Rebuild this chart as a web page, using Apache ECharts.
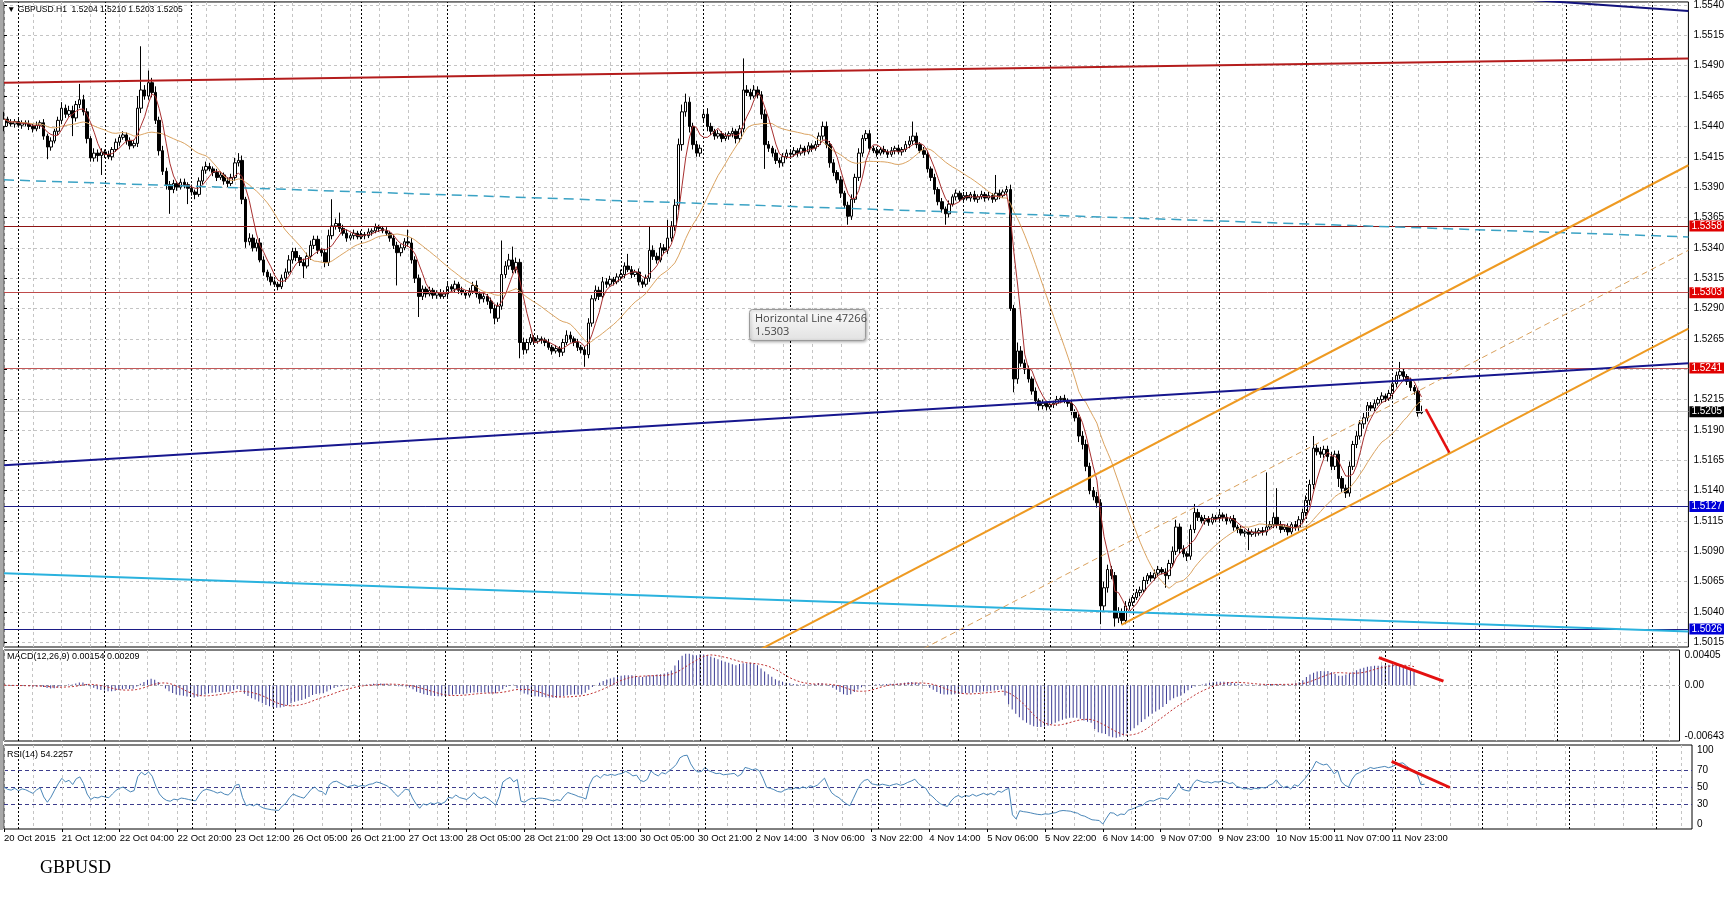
<!DOCTYPE html>
<html><head><meta charset="utf-8">
<script src="https://cdn.jsdelivr.net/npm/echarts@6/dist/echarts.min.js"></script>
<style>html,body{margin:0;padding:0;background:#fff}#c{width:1727px;height:910px}</style>
</head><body><div id="c"></div>
<script>
// ---- DATA (prices in pips above 1.5000; H1 bars from 20 Oct 2015 20:00) ----
const opens = [
440,446,443,442,444,441,443,442,440,438, 441,443,432,423,428,436,445,455,450,453,
447,458,462,452,430,414,418,416,419,417, 415,421,427,431,433,428,424,426,455,470,
465,476,468,445,420,403,392,388,393,390, 394,392,389,386,384,395,404,407,405,402,
398,400,395,393,398,410,412,380,345,348, 340,344,330,320,316,312,310,308,315,320,
330,337,332,328,325,333,342,347,338,336, 328,350,358,360,356,352,348,350,352,349,
351,350,353,354,357,356,354,352,348,342, 336,340,345,344,330,315,300,306,302,305,
301,303,300,302,308,306,310,305,303,301, 304,309,302,298,300,296,290,282,292,318,
325,330,322,328,262,256,262,266,263,265, 264,262,258,255,257,254,262,268,265,262,
258,256,252,278,298,305,300,312,310,314, 312,316,318,325,322,318,320,312,310,315,
338,333,330,340,338,348,358,375,425,452, 460,440,425,418,447,450,440,436,432,434,
430,432,434,436,430,438,470,468,465,470, 466,450,425,422,418,412,410,415,418,417,
420,418,422,419,424,422,425,432,440,425, 410,402,396,385,375,366,380,398,418,430,
434,422,420,418,421,419,417,420,422,419, 421,425,428,432,425,420,417,405,398,388,
378,372,368,376,382,385,380,383,381,384, 380,382,384,381,383,380,385,383,386,388,
290,232,255,245,240,232,222,214,210,212, 209,211,212,215,216,214,212,205,200,185,
178,160,140,135,130,45,60,75,70,35, 40,33,45,48,52,56,58,66,70,68,
72,75,73,70,80,90,110,92,88,86, 108,122,118,115,117,114,118,117,120,118,
115,117,110,108,105,106,104,106,105,107, 106,110,112,118,112,108,110,106,112,110,
116,122,132,145,175,172,170,174,168,160, 170,150,142,138,160,178,185,195,200,210,
208,212,215,218,216,220,228,235,238,234, 230,225,222,204
];
const closes = [
446,443,442,444,441,443,442,440,438,441, 443,432,423,428,436,445,455,450,453,447,
458,462,452,430,414,418,416,419,417,415, 421,427,431,433,428,424,426,455,470,465,
476,468,445,420,403,392,388,393,390,394, 392,389,386,384,395,404,407,405,402,398,
400,395,393,398,410,412,380,345,348,340, 344,330,320,316,312,310,308,315,320,330,
337,332,328,325,333,342,347,338,336,328, 350,358,360,356,352,348,350,352,349,351,
350,353,354,357,356,354,352,348,342,336, 340,345,344,330,315,300,306,302,305,301,
303,300,302,308,306,310,305,303,301,304, 309,302,298,300,296,290,282,292,318,325,
330,322,328,262,256,262,266,263,265,264, 262,258,255,257,254,262,268,265,262,258,
256,252,278,298,305,300,312,310,314,312, 316,318,325,322,318,320,312,310,315,338,
333,330,340,338,348,358,375,425,452,460, 440,425,418,422,450,440,436,432,434,430,
432,434,436,430,438,470,468,465,470,466, 450,425,422,418,412,410,415,418,417,420,
418,422,419,424,422,425,432,440,425,410, 402,396,385,375,366,380,398,418,430,434,
422,420,418,421,419,417,420,422,419,421, 425,428,432,425,420,417,405,398,388,378,
372,368,376,382,385,380,383,381,384,380, 382,384,381,383,380,385,383,386,388,290,
232,255,245,240,232,222,214,210,212,209, 211,212,215,216,214,212,205,200,185,178,
160,140,135,130,45,60,75,70,35,40, 33,45,48,52,56,58,66,70,68,72,
75,73,70,80,90,110,92,88,86,108, 122,118,115,117,114,118,117,120,118,115,
117,110,108,105,106,104,106,105,107,106, 110,112,118,112,108,110,106,112,110,116,
122,132,145,175,172,170,174,168,160,170, 150,142,138,160,178,185,195,200,210,208,
212,215,218,216,220,228,235,238,234,230, 225,222,204,205
];
const upperWick = [
6,2,3,2,3,2,2,3,2,3, 2,3,2,3,2,3,5,3,4,4, 3,13,4,3,2,4,3,3,2,3, 2,3,2,3,2,3,3,10,36,4,
10,4,5,3,4,3,3,3,2,3, 3,2,3,2,3,3,4,3,2,3, 3,2,3,3,4,6,4,2,4,3, 3,4,3,2,3,2,2,3,3,4,
3,3,2,3,3,4,3,3,2,3, 5,22,4,9,3,3,2,3,2,3, 2,3,2,3,2,2,3,2,3,3, 3,3,10,4,3,3,3,2,3,2,
2,3,3,3,2,3,2,3,2,3, 3,4,2,3,2,3,3,3,28,4, 5,11,4,3,4,3,3,2,3,2, 2,3,2,3,2,3,4,3,2,3,
2,3,4,3,4,3,4,3,3,2, 3,4,3,10,3,2,3,2,3,20, 4,3,4,3,15,4,5,5,6,7, 4,3,3,3,4,5,3,2,3,2,
3,2,3,2,3,26,4,3,4,3, 3,4,3,2,3,2,3,3,2,3, 2,3,2,3,2,3,3,4,4,3, 3,2,3,2,3,4,3,4,3,3,
3,2,3,2,3,2,3,2,3,2, 3,4,12,3,2,3,3,2,3,2, 3,2,3,2,3,2,3,3,2,3, 2,3,2,3,2,15,3,2,3,4,
3,7,4,3,3,2,3,2,3,2, 3,2,3,2,3,2,3,2,3,4, 4,3,3,4,3,5,4,3,3,4, 3,4,3,2,3,3,3,2,3,3,
3,2,3,3,4,6,3,3,2,4, 7,3,2,3,2,3,2,3,2,3, 2,3,2,3,2,3,2,3,2,3, 45,3,4,24,3,2,3,2,3,3,
3,4,4,10,3,4,3,3,4,3, 3,2,3,4,3,4,3,4,3,3, 3,2,3,2,3,4,3,8,3,2, 3,2,2,5
];
const lowerWick = [
4,3,2,3,2,3,2,3,3,2, 3,3,10,3,2,3,3,3,2,15, 3,3,3,4,3,3,5,16,3,2, 3,2,3,2,3,3,2,3,4,3,
3,4,3,4,3,4,20,3,3,2, 3,13,3,4,2,3,3,2,3,3, 2,3,3,2,3,3,4,5,3,3, 3,2,3,3,3,2,3,2,3,2,
3,3,3,10,2,3,3,3,3,4, 3,3,3,3,2,3,2,3,2,2, 3,2,3,2,3,2,2,3,3,27, 3,2,3,3,4,17,3,3,2,3,
3,2,2,3,2,3,3,2,3,2, 2,3,4,3,3,4,5,3,3,3, 3,3,3,13,4,3,2,3,2,3, 3,2,3,2,4,3,2,3,3,3,
3,10,3,3,2,3,2,3,2,3, 2,3,3,2,3,2,3,3,2,3, 3,3,2,3,3,3,4,4,5,4, 5,4,3,3,3,4,3,3,2,3,
2,3,3,4,3,3,3,3,2,3, 4,20,3,3,3,4,3,2,3,2, 3,2,3,2,3,2,2,3,3,4, 3,3,4,3,7,3,3,3,3,2,
3,2,3,2,2,3,2,3,2,3, 2,3,3,3,2,3,3,3,4,3, 3,9,3,2,3,2,3,2,3,2, 3,2,3,2,3,2,3,2,3,2,
11,4,3,4,3,3,3,4,3,3, 2,3,2,3,2,3,3,3,5,4, 4,3,3,4,15,4,4,3,7,4, 3,3,3,3,2,3,2,3,3,2,
3,2,10,3,3,3,4,3,4,3, 3,3,2,3,3,2,3,2,3,3, 2,3,3,2,3,13,2,3,2,3, 3,2,3,3,3,2,3,2,3,3,
3,3,4,4,3,3,3,4,3,3, 7,3,4,3,3,3,3,4,3,3, 3,2,3,3,2,3,3,3,3,3, 3,3,3,1
];
const timeLabels = ['20 Oct 2015','21 Oct 12:00','22 Oct 04:00','22 Oct 20:00','23 Oct 12:00','26 Oct 05:00',
 '26 Oct 21:00','27 Oct 13:00','28 Oct 05:00','28 Oct 21:00','29 Oct 13:00','30 Oct 05:00','30 Oct 21:00',
 '2 Nov 14:00','3 Nov 06:00','3 Nov 22:00','4 Nov 14:00','5 Nov 06:00','5 Nov 22:00','6 Nov 14:00',
 '9 Nov 07:00','9 Nov 23:00','10 Nov 15:00','11 Nov 07:00','11 Nov 23:00'];
const daySeparators = [4,28,52,75,99,123,147,171,194,218,242,266,290,313,337,361,385,409,433,457];
const priceTicks = ['1.5540','1.5515','1.5490','1.5465','1.5440','1.5415','1.5390','1.5365','1.5340','1.5315',
 '1.5290','1.5265','1.5240','1.5215','1.5190','1.5165','1.5140','1.5115','1.5090','1.5065','1.5040','1.5015'];
const hiddenPriceLabels = ['1.5240'];
const macdTicks = [-0.00643, 0, 0.00405];
const rsiTicks = [0, 30, 50, 70, 100];
const rsiLevels = [30, 50, 70];
const levels = [ // horizontal lines with price tags
 {v:1.5358, line:'#8e1414', tag:'#e00000'},
 {v:1.5303, line:'#bf4a4a', tag:'#e00000'},
 {v:1.5241, line:'#c25858', tag:'#e00000'},
 {v:1.5127, line:'#1c1c86', tag:'#0000d8'},
 {v:1.5026, line:'#1c1c86', tag:'#0000d8'},
 {v:1.5205, line:'#c8c8c8', tag:'#000000'}
];
// trend lines: [barIndex, price]
const trendLines = [
 {pts:[[0,1.5476],[467,1.5496]], color:'#b41c1c', width:2},
 {pts:[[420,1.55449],[467,1.5535]], color:'#12127c', width:2},
 {pts:[[0,1.5396],[467,1.5349]], color:'#3aa2c4', width:1.5, type:[10,6]},
 {pts:[[0,1.5161],[467,1.5245]], color:'#16168e', width:2},
 {pts:[[0,1.5072],[467,1.5024]], color:'#2ab2de', width:2},
 {pts:[[205,1.50019],[467,1.5408]], color:'#ee9a22', width:2},
 {pts:[[309.8,1.50294],[467,1.52735]], color:'#ee9a22', width:2},
 {pts:[[250,1.50022],[467,1.5338]], color:'#d9a05c', width:1, type:[6,4]}
];
const priceArrow = [[394.2,1.52072],[400.8,1.51709]];
const macdDivergence = [[383.2,0.00318],[401.2,0.00047]];
const rsiDivergence = [[383.9,80.4],[400,49.4]];
const tooltipAnchor = [206.66, 1.52897];

// ---- BUILD ----
const NS = 468;
const cats = Array.from({length:NS},(_,i)=>'b'+i);
const P = v => +(1.5 + v/10000).toFixed(5);
const candles = opens.map((o,i)=>{const c=closes[i];return [P(o),P(c),P(Math.min(o,c)-lowerWick[i]),P(Math.max(o,c)+upperWick[i])];});
const cl = closes.map(P);
function sma(a,n){return a.map((_,i)=>{const s=Math.max(0,i-n+1);let t=0;for(let k=s;k<=i;k++)t+=a[k];return +(t/(i-s+1)).toFixed(6);});}
function ema(a,n){const k=2/(n+1);const o=[];a.forEach((v,i)=>o.push(i===0?v:o[i-1]+k*(v-o[i-1])));return o;}
const e12=ema(cl,12), e26=ema(cl,26);
const macd = cl.map((_,i)=>+(e12[i]-e26[i]).toFixed(6));
const signal = sma(macd,9);
function rsi(a,n){
  let m=0; for(let i=1;i<=n;i++) m+=Math.abs(a[i]-a[i-1]); m/=n;
  let ag=m/2, al=m/2; const o=[50];
  for(let i=1;i<a.length;i++){const d=a[i]-a[i-1];ag=(ag*(n-1)+Math.max(d,0))/n;al=(al*(n-1)+Math.max(-d,0))/n;
    o.push(al===0?100:+(100-100/(1+ag/al)).toFixed(3));}
  return o;
}
const rsiVals = rsi(cl,14);

const FONT='Liberation Sans';
const gridLine = {show:true, interval:(i)=>i%8===0, lineStyle:{color:'#c4c4c4', type:[3,3], width:1}};
function catAxis(g, labels){
  return {type:'category', gridIndex:g, data:cats, boundaryGap:false,
    axisLine:{show:false},
    axisTick:{show:labels, interval:(i)=>i%16===0&&i<=384, length:3, lineStyle:{color:'#000'}},
    axisLabel:{show:labels, interval:(i)=>i%16===0&&i<=384, align:'left', margin:4, hideOverlap:false,
      formatter:(v,i)=>timeLabels[Math.round(i/16)]||'', fontSize:9.5, fontFamily:FONT, color:'#000'},
    splitLine:gridLine};
}
function valAxis(g){return {type:'value', gridIndex:g, min:0, max:NS-1, show:false};}
const sepMark = {silent:true, symbol:'none', precision:5, label:{show:false},
  lineStyle:{color:'#000', type:[2,2], width:1}, data: daySeparators.map(v=>({xAxis:v}))};

const grids = [
  {left:4, right:35, top:1, height:646},
  {left:4, right:35, top:650, height:91},
  {left:4, right:35, top:745, height:84}
].map(g=>Object.assign(g,{show:true, borderColor:'#000', borderWidth:1, backgroundColor:'#fff'}));

const tickVals = priceTicks.map(parseFloat);
const labelVals = priceTicks.filter(t=>!hiddenPriceLabels.includes(t)).map(parseFloat);

const series = [];
[1,3,5].forEach((xa,k)=>series.push({type:'line', xAxisIndex:xa, yAxisIndex:k, data:[], z:1, markLine:sepMark}));
series.push({type:'candlestick', xAxisIndex:0, yAxisIndex:0, data:candles, barWidth:3, z:4,
  itemStyle:{color:'#ffffff', color0:'#000000', borderColor:'#000000', borderColor0:'#000000', borderWidth:1}});
series.push({type:'line', xAxisIndex:0, yAxisIndex:0, data:sma(cl,20), symbol:'none', z:5,
  lineStyle:{color:'#dba462', width:1}});
series.push({type:'line', xAxisIndex:0, yAxisIndex:0, data:sma(cl,5), symbol:'none', z:5,
  lineStyle:{color:'#a83030', width:1}});
trendLines.forEach(t=>series.push({type:'line', xAxisIndex:1, yAxisIndex:0, data:t.pts, symbol:'none', z:6, clip:true,
  lineStyle:{color:t.color, width:t.width, type:t.type||'solid'}}));
series.push({type:'line', xAxisIndex:1, yAxisIndex:0, data:[], z:6,
  markLine:{silent:true, symbol:'none', precision:5, data: levels.map(l=>({yAxis:l.v,
    lineStyle:{color:l.line, width:1, type:'solid'},
    label:{show:true, position:'end', distance:1, formatter:l.v.toFixed(4), color:'#fff', backgroundColor:l.tag,
      padding:[1,2,0,2], fontSize:10, fontFamily:FONT}}))}});
series.push({type:'line', xAxisIndex:1, yAxisIndex:0, data:[], z:7,
  markLine:{silent:true, precision:5, symbol:['none','arrow'], symbolSize:[0,10], label:{show:false},
    lineStyle:{color:'#e41010', width:2.5, type:'solid'},
    data:[[{coord:priceArrow[0]},{coord:priceArrow[1]}]]}});
series.push({type:'bar', xAxisIndex:2, yAxisIndex:1, data:macd, barWidth:1, itemStyle:{color:'#3c3c94'}, z:3});
series.push({type:'line', xAxisIndex:2, yAxisIndex:1, data:signal, symbol:'none', z:4,
  lineStyle:{color:'#c03030', width:1, type:[2,2]}});
series.push({type:'line', xAxisIndex:3, yAxisIndex:1, data:macdDivergence, symbol:'none', z:6,
  lineStyle:{color:'#e41010', width:3}});
series.push({type:'line', xAxisIndex:4, yAxisIndex:2, data:rsiVals, symbol:'none', z:4,
  lineStyle:{color:'#4a86b8', width:1}});
series.push({type:'line', xAxisIndex:5, yAxisIndex:2, data:rsiDivergence, symbol:'none', z:6,
  lineStyle:{color:'#e41010', width:3}});

const yLab = {color:'#000', fontSize:10, fontFamily:FONT, margin:5};
const option = {
  animation:false,
  grid:grids,
  xAxis:[catAxis(0,false), valAxis(0), catAxis(1,false), valAxis(1), catAxis(2,true), valAxis(2)],
  yAxis:[
    {type:'value', gridIndex:0, position:'right', min:1.50112, max:1.55425, axisLine:{show:false},
     axisTick:{show:true, length:3, customValues:tickVals, lineStyle:{color:'#000'}},
     axisLabel:Object.assign({customValues:labelVals, formatter:v=>v.toFixed(4)}, yLab),
     splitLine:{show:true, lineStyle:{color:'#c4c4c4', type:[3,3], width:1}}},
    {type:'value', gridIndex:1, position:'right', min:macdTicks[0], max:macdTicks[2], axisLine:{show:false},
     axisTick:{show:false, customValues:[0]},
     axisLabel:Object.assign({customValues:macdTicks, formatter:v=>v===0?'0.00':v.toFixed(5),
       verticalAlignMinLabel:'bottom', verticalAlignMaxLabel:'top'}, yLab),
     splitLine:{show:true, lineStyle:{color:'#a8a8a8', type:[3,3], width:1}}},
    {type:'value', gridIndex:2, position:'right', min:0, max:100, axisLine:{show:false},
     axisTick:{show:false, customValues:rsiLevels},
     axisLabel:Object.assign({customValues:rsiTicks, verticalAlignMinLabel:'bottom', verticalAlignMaxLabel:'top'}, yLab),
     splitLine:{show:true, lineStyle:{color:'#3c3c8c', type:[4,3], width:1}}}
  ],
  series:series,
  graphic:[
    {id:'strip', type:'rect', left:0, top:0, shape:{width:3, height:830}, style:{fill:'#a8a8a8'}, z:100},
    {id:'hdr', type:'text', left:7, top:5, style:{text:'\u25BC GBPUSD.H1  1.5204 1.5210 1.5203 1.5205', fontSize:8.5, fontFamily:FONT, fill:'#000'}, z:100},
    {id:'macdT', type:'text', left:7, top:652, style:{text:'MACD(12,26,9) 0.00154 0.00209', fontSize:9, fontFamily:FONT, fill:'#000'}, z:100},
    {id:'rsiT', type:'text', left:7, top:750, style:{text:'RSI(14) 54.2257', fontSize:9, fontFamily:FONT, fill:'#000'}, z:100},
    {id:'cap', type:'text', left:40, top:859, style:{text:'GBPUSD', fontSize:18, fontFamily:'Liberation Serif', fill:'#000'}, z:100}
  ]
};
const chart = echarts.init(document.getElementById('c'), null, {renderer:'canvas'});
chart.setOption(option);
const tp = chart.convertToPixel({xAxisIndex:1, yAxisIndex:0}, tooltipAnchor) || [0,0];
const tipX = Math.round(tp[0]), tipY = Math.round(tp[1]);
chart.setOption({graphic:[
  {id:'tipBox', type:'rect', left:tipX, top:tipY, z:120, shape:{width:116,height:31,r:3},
   style:{fill:new echarts.graphic.LinearGradient(0,0,0,1,[{offset:0,color:'#fbfbfb'},{offset:1,color:'#e2e2e2'}]),
     stroke:'#9a9a9a', lineWidth:1, shadowBlur:3, shadowOffsetX:1, shadowOffsetY:1, shadowColor:'rgba(0,0,0,0.3)'}},
  {id:'tipText', type:'text', left:tipX+6, top:tipY+3, z:121,
   style:{text:'Horizontal Line 47266\n1.5303', fontSize:11, lineHeight:13, fontFamily:'Open Sans', fill:'#444'}}
]});
</script>
</body></html>
